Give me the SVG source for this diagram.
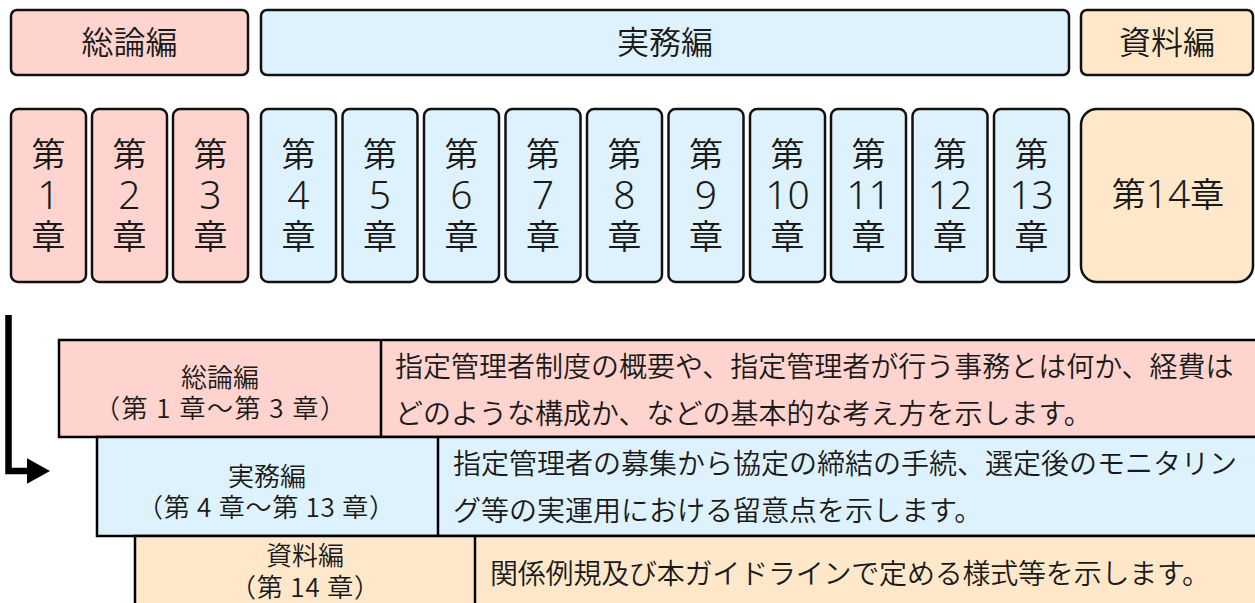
<svg xmlns="http://www.w3.org/2000/svg" width="1255" height="603" viewBox="0 0 1255 603">
<defs>
<style>
text{font-family:"Noto Sans CJK JP","Noto Sans",sans-serif;fill:#1a1a1a;dominant-baseline:central;font-weight:350;}
.num{font-family:"Noto Sans","Open Sans",sans-serif;font-weight:300;}
.pk{fill:#FFD4CE;}
.bl{fill:#DEF2FE;}
.or{fill:#FFE8CA;}
.bx{stroke:#111;stroke-width:2.5;}
.tb{stroke:#000;stroke-width:2.5;}
.top{font-size:32px;text-anchor:middle;}
.ch{font-size:34px;text-anchor:middle;}
.chn{font-size:39px;text-anchor:middle;}
.lab{font-size:26px;text-anchor:middle;}
.desc{font-size:28px;}
</style>
<marker id="ah" markerWidth="3.6" markerHeight="4" refX="0.5" refY="2" orient="auto" markerUnits="strokeWidth">
<path d="M0,0 L3.6,2 L0,4 Z" fill="#000"/>
</marker>
</defs>

<g id="sec-general">
<rect class="pk bx" x="11" y="10" width="237" height="65" rx="6"/>
<text class="top" x="129.5" y="40">総論編</text>
</g>
<g id="sec-practice">
<rect class="bl bx" x="261" y="10" width="808" height="65" rx="6"/>
<text class="top" x="665" y="40">実務編</text>
</g>
<g id="sec-material">
<rect class="or bx" x="1081" y="10" width="172" height="65" rx="6"/>
<text class="top" x="1167" y="40">資料編</text>
</g>

<g id="ch1"><rect class="pk bx" x="11" y="109" width="75" height="173" rx="7"/><text class="ch" x="48.5" y="152">第</text><text class="chn num" x="48.5" y="193">1</text><text class="ch" x="48.5" y="234">章</text></g>
<g id="ch2"><rect class="pk bx" x="92" y="109" width="75" height="173" rx="7"/><text class="ch" x="129.5" y="152">第</text><text class="chn num" x="129.5" y="193">2</text><text class="ch" x="129.5" y="234">章</text></g>
<g id="ch3"><rect class="pk bx" x="173" y="109" width="75" height="173" rx="7"/><text class="ch" x="210.5" y="152">第</text><text class="chn num" x="210.5" y="193">3</text><text class="ch" x="210.5" y="234">章</text></g>
<g id="ch4"><rect class="bl bx" x="261" y="109" width="75" height="173" rx="7"/><text class="ch" x="298.5" y="152">第</text><text class="chn num" x="298.5" y="193">4</text><text class="ch" x="298.5" y="234">章</text></g>
<g id="ch5"><rect class="bl bx" x="342.5" y="109" width="75" height="173" rx="7"/><text class="ch" x="380" y="152">第</text><text class="chn num" x="380" y="193">5</text><text class="ch" x="380" y="234">章</text></g>
<g id="ch6"><rect class="bl bx" x="424" y="109" width="75" height="173" rx="7"/><text class="ch" x="461.5" y="152">第</text><text class="chn num" x="461.5" y="193">6</text><text class="ch" x="461.5" y="234">章</text></g>
<g id="ch7"><rect class="bl bx" x="505.5" y="109" width="75" height="173" rx="7"/><text class="ch" x="543" y="152">第</text><text class="chn num" x="543" y="193">7</text><text class="ch" x="543" y="234">章</text></g>
<g id="ch8"><rect class="bl bx" x="587" y="109" width="75" height="173" rx="7"/><text class="ch" x="624.5" y="152">第</text><text class="chn num" x="624.5" y="193">8</text><text class="ch" x="624.5" y="234">章</text></g>
<g id="ch9"><rect class="bl bx" x="668.5" y="109" width="75" height="173" rx="7"/><text class="ch" x="706" y="152">第</text><text class="chn num" x="706" y="193">9</text><text class="ch" x="706" y="234">章</text></g>
<g id="ch10"><rect class="bl bx" x="750" y="109" width="75" height="173" rx="7"/><text class="ch" x="787.5" y="152">第</text><text class="chn num" x="787.5" y="193">10</text><text class="ch" x="787.5" y="234">章</text></g>
<g id="ch11"><rect class="bl bx" x="831" y="109" width="75" height="173" rx="7"/><text class="ch" x="868.5" y="152">第</text><text class="chn num" x="868.5" y="193">11</text><text class="ch" x="868.5" y="234">章</text></g>
<g id="ch12"><rect class="bl bx" x="912.5" y="109" width="75" height="173" rx="7"/><text class="ch" x="950" y="152">第</text><text class="chn num" x="950" y="193">12</text><text class="ch" x="950" y="234">章</text></g>
<g id="ch13"><rect class="bl bx" x="994" y="109" width="75" height="173" rx="7"/><text class="ch" x="1031.5" y="152">第</text><text class="chn num" x="1031.5" y="193">13</text><text class="ch" x="1031.5" y="234">章</text></g>
<g id="ch14"><rect class="or bx" x="1081" y="109" width="172" height="173" rx="16"/><text class="ch" x="1168" y="192">第<tspan class="num" font-size="39">14</tspan>章</text></g>

<g id="connectors">
<path d="M8.5,315 V471 H30" fill="none" stroke="#000" stroke-width="6.5" marker-end="url(#ah)"/>
</g>

<g id="row-general">
<rect class="pk tb" x="59" y="340" width="1210" height="97"/>
<line class="tb" x1="381" y1="340" x2="381" y2="437"/>
<text class="lab" x="220" y="375">総論編</text>
<text class="lab" x="220" y="406" textLength="252" lengthAdjust="spacing">（第 1 章〜第 3 章）</text>
<text class="desc" x="395" y="365">指定管理者制度の概要や、指定管理者が行う事務とは何か、経費は</text>
<text class="desc" x="395" y="412">どのような構成か、などの基本的な考え方を示します。</text>
</g>
<g id="row-practice">
<rect class="bl tb" x="97" y="437" width="1172" height="99"/>
<line class="tb" x1="438" y1="437" x2="438" y2="536"/>
<text class="lab" x="267" y="474">実務編</text>
<text class="lab" x="266" y="505" textLength="258" lengthAdjust="spacing">（第 4 章〜第 13 章）</text>
<text class="desc" x="453" y="462">指定管理者の募集から協定の締結の手続、選定後のモニタリン</text>
<text class="desc" x="453" y="509">グ等の実運用における留意点を示します。</text>
</g>
<g id="row-material">
<rect class="or tb" x="135" y="536" width="1134" height="80"/>
<line class="tb" x1="475" y1="536" x2="475" y2="616"/>
<text class="lab" x="305" y="553">資料編</text>
<text class="lab" x="305" y="585" textLength="150" lengthAdjust="spacing">（第 14 章）</text>
<text class="desc" x="490" y="572" textLength="720" lengthAdjust="spacing">関係例規及び本ガイドラインで定める様式等を示します。</text>
</g>
</svg>
